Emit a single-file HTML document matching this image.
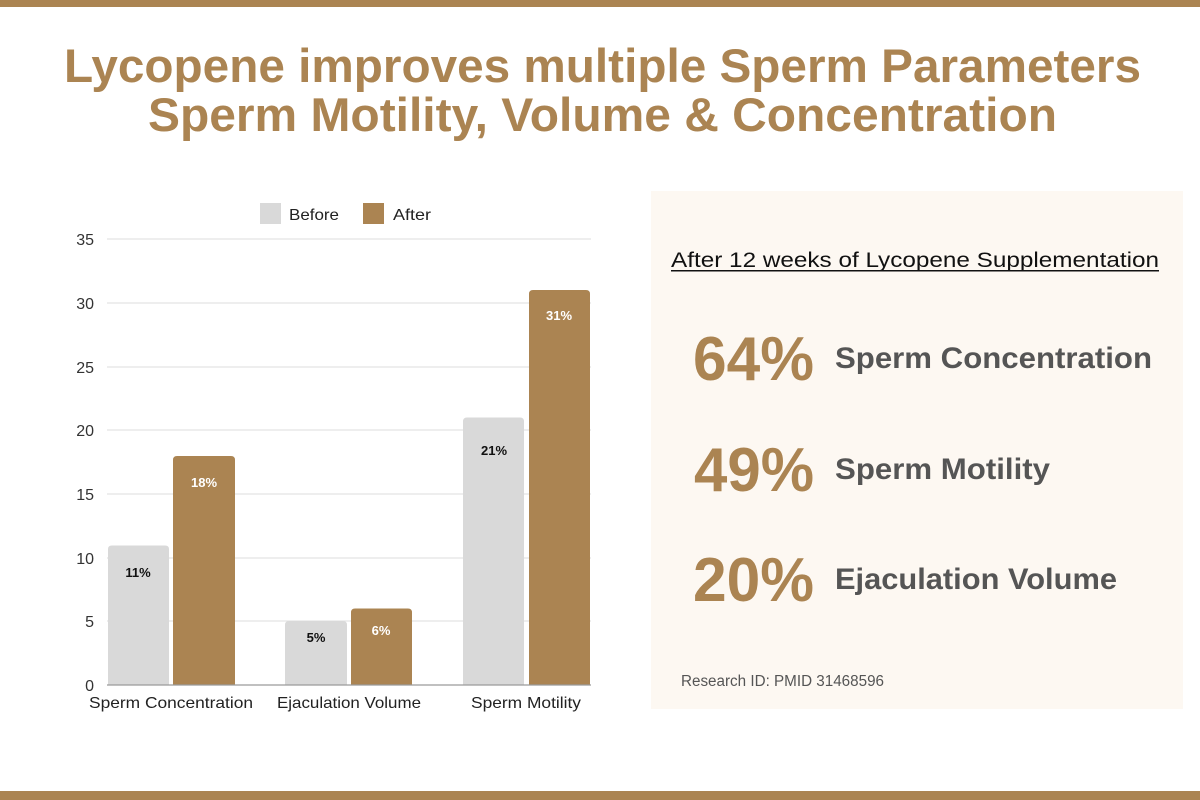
<!DOCTYPE html>
<html>
<head>
<meta charset="utf-8">
<style>
  html, body { margin:0; padding:0; background:#ffffff; }
  body { width:1200px; height:800px; overflow:hidden; }
  svg { display:block; }
  text { font-family: "Liberation Sans", Arial, sans-serif; }
</style>
</head>
<body>
<svg width="1200" height="800" viewBox="0 0 1200 800" xmlns="http://www.w3.org/2000/svg">
  <!-- top/bottom bars -->
  <rect x="0" y="0" width="1200" height="7" fill="#ab8452"/>
  <rect x="0" y="791" width="1200" height="9" fill="#ab8452"/>

  <!-- Title -->
  <text x="64" y="82" font-size="47" font-weight="bold" fill="#ab8452" textLength="1077" lengthAdjust="spacingAndGlyphs">Lycopene improves multiple Sperm Parameters</text>
  <text x="148" y="131" font-size="47" font-weight="bold" fill="#ab8452" textLength="909" lengthAdjust="spacingAndGlyphs">Sperm Motility, Volume &amp; Concentration</text>

  <!-- Legend -->
  <rect x="260" y="203" width="21" height="21" fill="#d9d9d9"/>
  <text x="289" y="220" font-size="16" fill="#222" textLength="50" lengthAdjust="spacingAndGlyphs">Before</text>
  <rect x="363" y="203" width="21" height="21" fill="#ab8452"/>
  <text x="393" y="220" font-size="16" fill="#222" textLength="38" lengthAdjust="spacingAndGlyphs">After</text>

  <!-- gridlines -->
  <g stroke="#e3e3e3" stroke-width="1.2">
    <line x1="107" y1="239" x2="591" y2="239"/>
    <line x1="107" y1="303" x2="591" y2="303"/>
    <line x1="107" y1="367" x2="591" y2="367"/>
    <line x1="107" y1="430" x2="591" y2="430"/>
    <line x1="107" y1="494" x2="591" y2="494"/>
    <line x1="107" y1="558" x2="591" y2="558"/>
    <line x1="107" y1="621" x2="591" y2="621"/>
  </g>

  <!-- y tick labels -->
  <g font-size="16" fill="#333" text-anchor="end">
    <text x="94" y="245">35</text>
    <text x="94" y="309">30</text>
    <text x="94" y="373">25</text>
    <text x="94" y="436">20</text>
    <text x="94" y="500">15</text>
    <text x="94" y="564">10</text>
    <text x="94" y="627">5</text>
    <text x="94" y="691">0</text>
  </g>

  <!-- bars -->
  <g>
    <path d="M108 685 V549 Q108 545.5 112 545.5 H165 Q169 545.5 169 549 V685 Z" fill="#d9d9d9"/>
    <path d="M173 685 V460 Q173 456 177 456 H231 Q235 456 235 460 V685 Z" fill="#ab8452"/>
    <path d="M285 685 V625 Q285 621 289 621 H343 Q347 621 347 625 V685 Z" fill="#d9d9d9"/>
    <path d="M351 685 V612.5 Q351 608.5 355 608.5 H408 Q412 608.5 412 612.5 V685 Z" fill="#ab8452"/>
    <path d="M463 685 V421.5 Q463 417.5 467 417.5 H520 Q524 417.5 524 421.5 V685 Z" fill="#d9d9d9"/>
    <path d="M529 685 V294 Q529 290 533 290 H586 Q590 290 590 294 V685 Z" fill="#ab8452"/>
  </g>

  <!-- axis base line -->
  <line x1="107" y1="685" x2="591" y2="685" stroke="#9a9a9a" stroke-width="1.2"/>

  <!-- bar labels -->
  <g font-size="13" font-weight="bold" text-anchor="middle">
    <text x="138" y="577" fill="#111">11%</text>
    <text x="204" y="487" fill="#ffffff">18%</text>
    <text x="316" y="642" fill="#111">5%</text>
    <text x="381" y="635" fill="#ffffff">6%</text>
    <text x="494" y="455" fill="#111">21%</text>
    <text x="559" y="320" fill="#ffffff">31%</text>
  </g>

  <!-- category labels -->
  <g font-size="16" fill="#222">
    <text x="89" y="708" textLength="164" lengthAdjust="spacingAndGlyphs">Sperm Concentration</text>
    <text x="277" y="708" textLength="144" lengthAdjust="spacingAndGlyphs">Ejaculation Volume</text>
    <text x="471" y="708" textLength="110" lengthAdjust="spacingAndGlyphs">Sperm Motility</text>
  </g>

  <!-- right panel -->
  <rect x="651" y="191" width="532" height="518" fill="#fdf8f2"/>
  <text x="671" y="267" font-size="21" fill="#111" textLength="488" lengthAdjust="spacingAndGlyphs">After 12 weeks of Lycopene Supplementation</text>
  <rect x="671" y="270" width="488" height="1.5" fill="#111"/>

  <g font-weight="bold">
    <text x="693" y="380" font-size="62" fill="#ab8452" textLength="121" lengthAdjust="spacingAndGlyphs">64%</text>
    <text x="835" y="368" font-size="29.5" fill="#555555" textLength="317" lengthAdjust="spacingAndGlyphs">Sperm Concentration</text>

    <text x="694" y="491" font-size="62" fill="#ab8452" textLength="120" lengthAdjust="spacingAndGlyphs">49%</text>
    <text x="835" y="479" font-size="29.5" fill="#555555" textLength="215" lengthAdjust="spacingAndGlyphs">Sperm Motility</text>

    <text x="693" y="601" font-size="62" fill="#ab8452" textLength="121" lengthAdjust="spacingAndGlyphs">20%</text>
    <text x="835" y="589" font-size="29.5" fill="#555555" textLength="282" lengthAdjust="spacingAndGlyphs">Ejaculation Volume</text>
  </g>

  <text x="681" y="686" font-size="15.5" fill="#555555" textLength="203" lengthAdjust="spacingAndGlyphs">Research ID: PMID 31468596</text>
</svg>
</body>
</html>
